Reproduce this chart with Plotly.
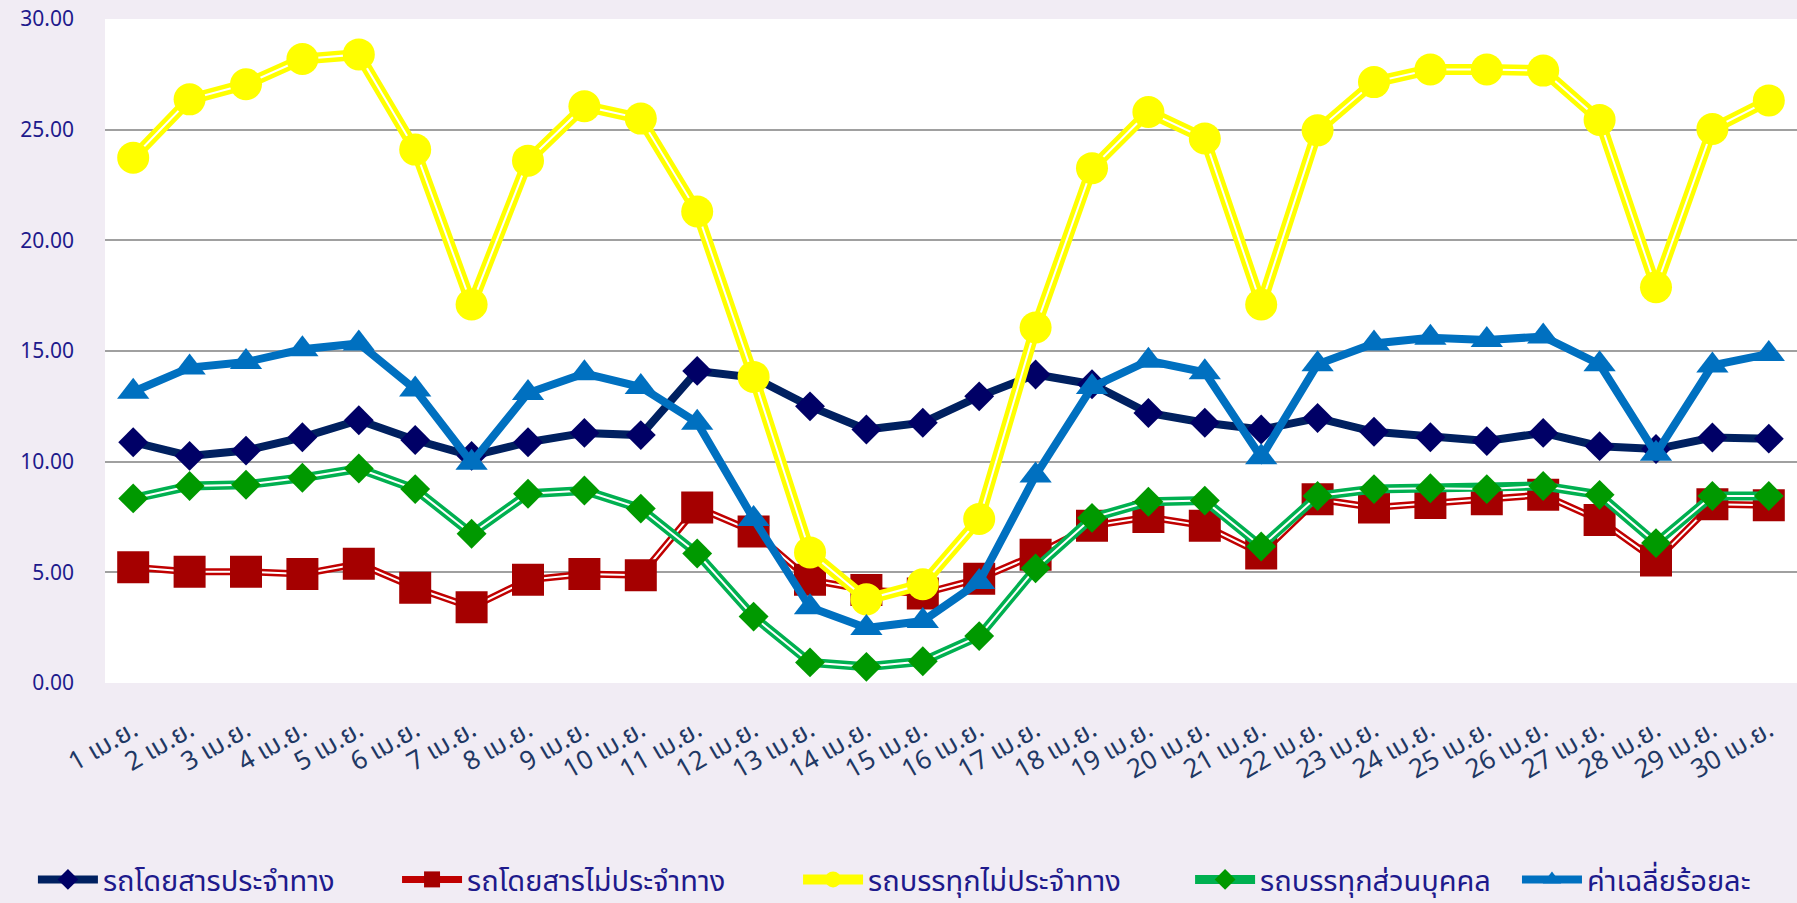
import plotly.graph_objects as go

days = [f"{i} เม.ย." for i in range(1, 31)]

names = ["รถโดยสารประจำทาง", "รถโดยสารไม่ประจำทาง", "รถบรรทุกไม่ประจำทาง",
         "รถบรรทุกส่วนบุคคล", "ค่าเฉลี่ยร้อยละ"]

bus_fixed = [10.88, 10.26, 10.5, 11.1, 11.87, 10.98, 10.26, 10.88, 11.3, 11.2,
             14.1, 13.8, 12.5, 11.45, 11.76, 12.95, 13.94, 13.5, 12.2, 11.76,
             11.45, 11.97, 11.35, 11.1, 10.93, 11.3, 10.7, 10.57, 11.09, 11.04]
bus_nonfixed = [5.23, 5.03, 5.03, 4.92, 5.39, 4.3, 3.42, 4.66, 4.92, 4.87,
                7.93, 6.84, 4.66, 4.2, 4.04, 4.71, 5.8, 7.1, 7.5, 7.1,
                5.85, 8.3, 7.93, 8.13, 8.3, 8.5, 7.36, 5.54, 8.08, 8.03]
truck_nonfixed = [23.73, 26.37, 27.05, 28.19, 28.4, 24.1, 17.1, 23.6, 26.06, 25.5,
                  21.3, 13.83, 5.9, 3.78, 4.46, 7.41, 16.06, 23.26, 25.8, 24.6,
                  17.1, 24.97, 27.15, 27.72, 27.72, 27.67, 25.44, 17.88, 25.03, 26.32]
truck_private = [8.34, 8.9, 8.96, 9.27, 9.69, 8.76, 6.74, 8.55, 8.7, 7.88,
                 5.85, 3.0, 0.93, 0.73, 0.98, 2.12, 5.18, 7.46, 8.19, 8.24,
                 6.17, 8.45, 8.76, 8.8, 8.76, 8.9, 8.5, 6.32, 8.45, 8.45]
average = [13.16, 14.25, 14.5, 15.08, 15.34, 13.26, 9.95, 13.1, 13.99, 13.37,
           11.76, 7.41, 3.42, 2.49, 2.8, 4.56, 9.38, 13.37, 14.56, 14.04,
           10.2, 14.4, 15.34, 15.6, 15.5, 15.65, 14.4, 10.36, 14.35, 14.87]

series = [bus_fixed, bus_nonfixed, truck_nonfixed, truck_private, average]

# style: line colour, line width, compound (white inner line), marker symbol, marker colour, marker size
styles = [
    ("#002060", 8, False, "diamond", "#000066", 23),
    ("#C00000", 7, True, "square", "#A50000", 32),
    ("#FFFF00", 11, True, "circle", "#FFFF00", 32),
    ("#00B050", 9, True, "diamond", "#009900", 23),
    ("#0070C0", 8, False, "triangle-up", "#0070C0", 28),
]

legend_x = [-0.0426, 0.1726, 0.4096, 0.6413, 0.8345]

fig = go.Figure()
for name, vals, (lc, lw, comp, sym, mc, ms) in zip(names, series, styles):
    fig.add_trace(go.Scatter(x=days, y=vals, mode="lines",
                             line=dict(color=lc, width=lw), showlegend=False,
                             hoverinfo="skip"))
    if comp:
        fig.add_trace(go.Scatter(x=days, y=vals, mode="lines+markers",
                                 line=dict(color="white", width=2),
                                 marker=dict(symbol=sym, color=mc, size=ms, line=dict(width=0)),
                                 showlegend=False, name=name))
    else:
        fig.add_trace(go.Scatter(x=days, y=vals, mode="markers",
                                 marker=dict(symbol=sym, color=mc, size=ms, line=dict(width=0)),
                                 showlegend=False, name=name))

font_family = "Tahoma, 'Noto Sans Thai', 'Leelawadee UI', 'DejaVu Sans', sans-serif"

legend_layouts = {}
for i, (name, (lc, lw, comp, sym, mc, ms)) in enumerate(zip(names, styles)):
    lname = "legend" if i == 0 else f"legend{i + 1}"
    fig.add_trace(go.Scatter(x=[None], y=[None], mode="lines+markers", name=name,
                             legend=lname,
                             line=dict(color=lc, width=lw),
                             marker=dict(symbol=sym, color=mc, size=min(ms, 22), line=dict(width=0))))
    legend_layouts[lname] = dict(orientation="h", x=legend_x[i], xanchor="left",
                                 y=-0.296, yanchor="middle",
                                 font=dict(size=29, color="#1E1A8C", family=font_family),
                                 itemwidth=60, bgcolor="rgba(0,0,0,0)")

fig.update_layout(
    width=1797, height=903,
    paper_bgcolor="#F1ECF4", plot_bgcolor="white",
    margin=dict(l=105, r=0, t=19, b=220, autoexpand=False),
    font=dict(family=font_family),
    xaxis=dict(type="category", range=[-0.5, 29.5], showgrid=False, zeroline=False,
               tickangle=-30, tickfont=dict(size=26, color="#1F3864"), ticks="",
               showline=False, ticklabelstandoff=26),
    yaxis=dict(range=[0, 30], dtick=5, tickformat=".2f", showgrid=True,
               gridcolor="#A0A0A0", gridwidth=2, zeroline=False, showline=False,
               tickfont=dict(size=21, color="#1E1A8C"), ticks="", ticklabelstandoff=30),
    showlegend=True,
    **legend_layouts,
)

fig.write_html("out.html", config={"displayModeBar": False},
               post_script="document.body.style.margin='0';document.body.style.overflow='hidden';")
